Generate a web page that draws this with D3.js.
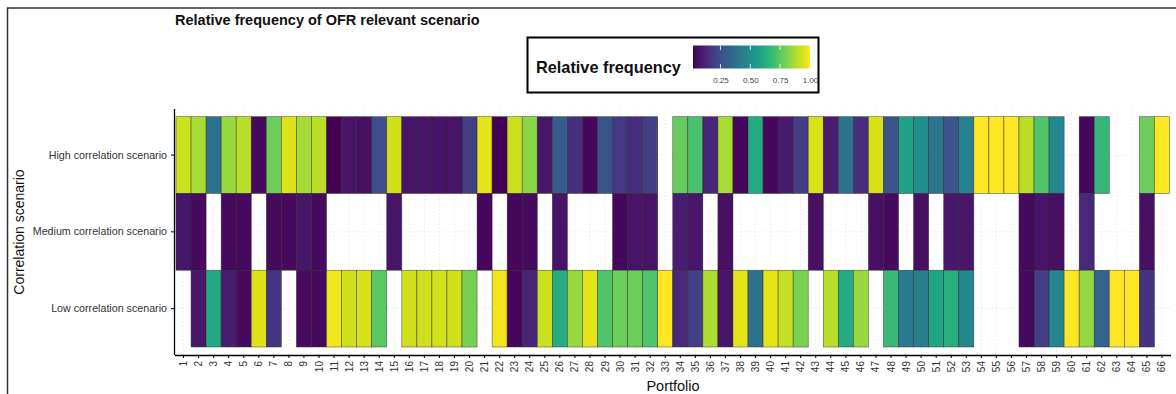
<!DOCTYPE html>
<html>
<head>
<meta charset="utf-8">
<script src="https://cdn.jsdelivr.net/npm/d3@7"></script>
<style>
  body { margin: 0; background: #fff; }
  svg { font-family: "Liberation Sans", Arial, sans-serif; }
</style>
</head>
<body>
<svg id="mainsvg" width="1176" height="394"></svg>
<script>
// portfolios on the x axis
const portfolios = ['1','2','3','4','5','6','7','8','9','10','11','12','13','14','15','16','17','18','19','20',
  '21','22','23','24','25','26','27','28','29','30','31','32','33','34','35','36','37','38','39','40',
  '41','42','43','44','45','46','47','48','49','50','51','52','53','54','55','56','57','58','59','60',
  '61','62','63','64','65','66'];

const scenarios = ['High correlation scenario', 'Medium correlation scenario', 'Low correlation scenario'];

// relative frequency per portfolio, null = scenario not relevant
const highValues = [0.92,0.87,0.39,0.85,0.90,0.05,0.78,0.95,0.87,0.90,0.02,0.07,0.06,0.25,0.93,0.07,0.07,0.07,0.07,0.20,
  0.96,0.02,0.92,0.83,0.08,0.30,0.15,0.04,0.27,0.18,0.15,0.20,null,0.77,0.72,0.12,0.87,0.04,0.62,0.04,
  0.09,0.20,0.94,0.10,0.38,0.15,0.94,0.27,0.58,0.50,0.40,0.28,0.45,1.00,1.00,1.00,0.90,0.73,0.47,null,
  0.04,0.67,null,null,0.78,1.00];
const mediumValues = [0.08,0.05,null,0.05,0.05,null,0.05,0.05,0.08,0.05,null,null,null,null,0.07,null,null,null,null,null,
  0.04,null,0.04,0.05,null,0.07,null,null,null,0.04,0.07,0.07,null,0.10,0.08,null,0.06,null,null,null,
  null,null,0.06,null,null,null,0.06,0.05,null,0.06,null,0.08,0.08,null,null,null,0.05,0.07,0.06,null,
  0.13,null,null,null,0.06,null];
const lowValues = [null,0.08,0.61,0.10,0.05,0.95,0.17,null,0.05,0.05,0.98,0.93,0.94,0.75,null,0.93,0.93,0.93,0.93,0.80,
  null,0.98,0.04,0.12,0.92,0.63,0.85,0.96,0.73,0.78,0.78,0.73,1.00,0.13,0.20,0.88,0.07,0.96,0.38,0.96,
  0.91,0.80,null,0.90,0.62,0.85,null,0.68,0.42,0.44,0.60,0.64,0.47,null,null,null,0.05,0.20,0.47,1.00,
  0.84,0.33,1.00,1.00,0.16,null];

const legendTicks = [0.25, 0.5, 0.75, 1.0];

const seriesByScenario = [highValues, mediumValues, lowValues];
const cells = [];
scenarios.forEach((s, i) => {
  seriesByScenario[i].forEach((v, j) => {
    if (v !== null) cells.push({ portfolio: portfolios[j], scenario: s, value: v });
  });
});

const svg = d3.select('#mainsvg');

// outer frame (only top and left visible)
svg.append('path')
  .attr('d', 'M7.5,394 V8 H1176')
  .attr('fill', 'none')
  .attr('stroke', '#333')
  .attr('stroke-width', 1.5);

const panel = { left: 175, right: 1171, top: 109, bottom: 355 };

const xScale = d3.scaleBand().domain(portfolios).range([176, 1169.5]).padding(0);
const yScale = d3.scaleBand().domain(scenarios).range([116.7, 347]).padding(0);

const allValues = cells.map(d => d.value);
const color = d3.scaleSequential(d3.interpolateViridis).domain(d3.extent(allValues));

// grid
const grid = svg.append('g');
portfolios.forEach(p => {
  const x = xScale(p) + xScale.bandwidth() / 2;
  grid.append('line')
    .attr('x1', x).attr('x2', x)
    .attr('y1', panel.top).attr('y2', panel.bottom)
    .attr('stroke', '#d6d6d6').attr('stroke-width', 0.6).attr('stroke-dasharray', '1.2,2.4');
});
scenarios.forEach(s => {
  const y = yScale(s) + yScale.bandwidth() / 2;
  grid.append('line')
    .attr('x1', panel.left).attr('x2', panel.right)
    .attr('y1', y).attr('y2', y)
    .attr('stroke', '#d6d6d6').attr('stroke-width', 0.6).attr('stroke-dasharray', '1.2,2.4');
});

// tiles
svg.append('g').selectAll('rect')
  .data(cells)
  .join('rect')
  .attr('x', d => xScale(d.portfolio))
  .attr('y', d => yScale(d.scenario))
  .attr('width', xScale.bandwidth())
  .attr('height', yScale.bandwidth())
  .attr('fill', d => color(d.value))
  .attr('stroke', '#222')
  .attr('stroke-opacity', 0.7)
  .attr('stroke-width', 0.6);

// axes
const xAxis = d3.axisBottom(xScale).tickSize(3).tickSizeOuter(0);
const yAxis = d3.axisLeft(yScale).tickSize(4).tickSizeOuter(0);

const gx = svg.append('g').attr('transform', `translate(0,${panel.bottom})`).call(xAxis);
gx.select('.domain').attr('d', `M${panel.left},0.5H${panel.right}`).attr('stroke', '#000').attr('stroke-width', 1.3);
gx.selectAll('.tick line').attr('stroke', '#000');
gx.selectAll('.tick text')
  .attr('transform', 'rotate(-90)')
  .attr('text-anchor', 'end')
  .attr('x', -6)
  .attr('y', 0)
  .attr('dy', '0.35em')
  .attr('font-size', 10)
  .attr('fill', '#333');

const gy = svg.append('g').attr('transform', `translate(${panel.left},0)`).call(yAxis);
gy.select('.domain').attr('d', `M-0.5,${panel.top}V${panel.bottom}`).attr('stroke', '#000').attr('stroke-width', 1.3);
gy.selectAll('.tick line').attr('stroke', '#000');
gy.selectAll('.tick text').attr('font-size', 10.7).attr('fill', '#333').attr('x', -8);

// axis titles
svg.append('text')
  .text('Portfolio')
  .attr('x', (panel.left + panel.right) / 2)
  .attr('y', 391)
  .attr('text-anchor', 'middle')
  .attr('font-size', 14.5)
  .attr('fill', '#111');

svg.append('text')
  .text('Correlation scenario')
  .attr('transform', `translate(24,${(panel.top + panel.bottom) / 2}) rotate(-90)`)
  .attr('text-anchor', 'middle')
  .attr('font-size', 14)
  .attr('fill', '#111');

// title
svg.append('text')
  .text('Relative frequency of OFR relevant scenario')
  .attr('x', 175)
  .attr('y', 25)
  .attr('font-size', 14.5)
  .attr('font-weight', 'bold')
  .attr('fill', '#111');

// legend
const legend = svg.append('g');
legend.append('rect')
  .attr('x', 527.5).attr('y', 37.5).attr('width', 291).attr('height', 55)
  .attr('fill', '#fff').attr('stroke', '#000').attr('stroke-width', 2);
legend.append('text')
  .text('Relative frequency')
  .attr('x', 536).attr('y', 73)
  .attr('font-size', 16.3).attr('font-weight', 'bold').attr('fill', '#111');

const legendScale = d3.scaleLinear().domain(color.domain()).range([693, 810]);
const defs = svg.append('defs');
const grad = defs.append('linearGradient').attr('id', 'viridisGrad');
d3.range(0, 1.0001, 0.05).forEach(t => {
  grad.append('stop').attr('offset', `${t * 100}%`).attr('stop-color', d3.interpolateViridis(t));
});
legend.append('rect')
  .attr('x', legendScale.range()[0]).attr('y', 45.5)
  .attr('width', legendScale.range()[1] - legendScale.range()[0]).attr('height', 23)
  .attr('fill', 'url(#viridisGrad)');

const legendAxis = d3.axisBottom(legendScale).tickValues(legendTicks).tickFormat(d3.format('.2f')).tickSize(0);
const gl = legend.append('g').attr('transform', 'translate(0,68.5)').call(legendAxis);
gl.select('.domain').remove();
gl.selectAll('.tick text').attr('font-size', 8).attr('fill', '#444').attr('dy', '0.71em').attr('y', 9);
legendTicks.forEach(t => {
  const x = legendScale(t);
  legend.append('line').attr('x1', x).attr('x2', x).attr('y1', 45.5).attr('y2', 50)
    .attr('stroke', '#fff').attr('stroke-width', 0.8);
  legend.append('line').attr('x1', x).attr('x2', x).attr('y1', 64).attr('y2', 68.5)
    .attr('stroke', '#fff').attr('stroke-width', 0.8);
});
</script>
</body>
</html>
